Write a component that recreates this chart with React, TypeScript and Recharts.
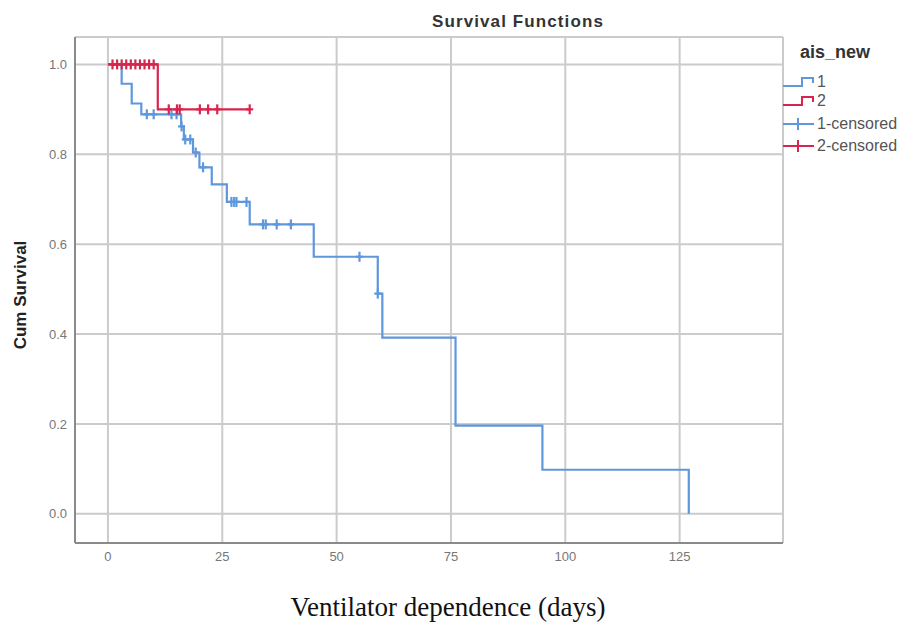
import React from 'react';
import { ComposedChart, Line, Scatter, XAxis, YAxis, CartesianGrid, Legend } from 'recharts';

// group 1 (ais_new = 1): step times and cumulative survival
const group1Times = [0, 3, 5.2, 7.3, 16, 16.6, 18.6, 20, 22.7, 26, 31, 45, 59, 60, 76, 95, 127];
const group1Surv = [1, 0.957, 0.913, 0.889, 0.862, 0.833, 0.804, 0.771, 0.733, 0.694, 0.644, 0.572, 0.49, 0.392, 0.196, 0.098, 0];
const group1CensorTimes = [8.5, 10, 13.9, 15, 16.1, 16.9, 18, 19.2, 20.8, 27, 27.6, 28.1, 30.3, 33.9, 34.5, 36.9, 40, 55, 59];
const group1CensorSurv = [0.889, 0.889, 0.889, 0.889, 0.862, 0.833, 0.833, 0.804, 0.771, 0.694, 0.694, 0.694, 0.694, 0.644, 0.644, 0.644, 0.644, 0.572, 0.49];

// group 2 (ais_new = 2)
const group2Times = [0, 10.9, 31];
const group2Surv = [1, 0.9, 0.9];
const group2CensorTimes = [1, 2, 3, 4, 5, 6, 7, 8, 9, 10, 13.3, 15.1, 15.7, 20.1, 21.9, 23.9, 31];
const group2CensorSurv = [1, 1, 1, 1, 1, 1, 1, 1, 1, 1, 0.9, 0.9, 0.9, 0.9, 0.9, 0.9, 0.9];

const xTicks = [0, 25, 50, 75, 100, 125];
const yTicks = [0, 0.2, 0.4, 0.6, 0.8, 1];
const legendLabels = ['1', '2', '1-censored', '2-censored'];

const BLUE = '#5f97dc';
const RED = '#d7264e';
const FONT = '"Liberation Sans", Arial, sans-serif';

const toPoints = (ts: number[], ss: number[]) => ts.map((t, i) => ({ t, s: ss[i] }));

const censorMark = (color: string) => (props: any) => {
  const { cx, cy } = props;
  return (
    <g stroke={color} strokeWidth={2.2}>
      <line x1={cx} x2={cx} y1={cy - 5} y2={cy + 5} />
      <line x1={cx - 3.5} x2={cx + 3.5} y1={cy} y2={cy} />
    </g>
  );
};

const LegendBox = () => {
  const rows = [48, 67, 90, 112];
  const colors = [BLUE, RED, BLUE, RED];
  return (
    <svg width={122} height={125} style={{ fontFamily: FONT }}>
      <text x={19} y={24} fontSize={18} fontWeight="bold" fill="#333">ais_new</text>
      {legendLabels.map((label, i) => {
        const y = rows[i];
        const c = colors[i];
        return (
          <g key={label}>
            {i < 2 ? (
              <path d={`M2,${y + 4} H21 V${y - 4} H32 V${y + 1}`} fill="none" stroke={c} strokeWidth={2} />
            ) : (
              <g stroke={c} strokeWidth={2}>
                <line x1={2} x2={33} y1={y} y2={y} />
                <line x1={17} x2={17} y1={y - 6} y2={y + 6} />
              </g>
            )}
            <text x={36} y={y + 5} fontSize={16} fill="#555">{label}</text>
          </g>
        );
      })}
    </svg>
  );
};

export default function App() {
  return (
    <div style={{ position: 'relative', width: 903, height: 628, background: '#fff', fontFamily: FONT }}>
      <style>{'body{margin:0}'}</style>
      <ComposedChart
        width={903}
        height={628}
        margin={{ top: 37, right: 120, bottom: 55, left: 35 }}
      >
        <CartesianGrid stroke="#cbcbcb" strokeWidth={2} />
        <XAxis
          dataKey="t"
          type="number"
          domain={[-7.2, 147.6]}
          allowDataOverflow
          ticks={xTicks}
          tickLine={false}
          tickSize={0}
          tickMargin={9}
          axisLine={{ stroke: '#8a8a8a', strokeWidth: 2 }}
          tick={{ fill: '#777', fontSize: 13 }}
        />
        <YAxis
          dataKey="s"
          type="number"
          width={40}
          domain={[-0.065, 1.061]}
          allowDataOverflow
          ticks={yTicks}
          tickFormatter={(v: number) => v.toFixed(1)}
          tickLine={false}
          tickSize={0}
          tickMargin={8}
          axisLine={{ stroke: '#8a8a8a', strokeWidth: 2 }}
          tick={{ fill: '#777', fontSize: 13 }}
        />
        <Legend
          layout="horizontal"
          verticalAlign="middle"
          content={() => <LegendBox />}
          wrapperStyle={{ left: 781, top: 34, width: 122, height: 125 }}
        />
        <Line
          data={toPoints(group1Times, group1Surv)}
          dataKey="s"
          type="stepAfter"
          stroke={BLUE}
          strokeWidth={2.2}
          dot={false}
          activeDot={false}
          isAnimationActive={false}
          legendType="none"
        />
        <Line
          data={toPoints(group2Times, group2Surv)}
          dataKey="s"
          type="stepAfter"
          stroke={RED}
          strokeWidth={2.2}
          dot={false}
          activeDot={false}
          isAnimationActive={false}
          legendType="none"
        />
        <Scatter
          data={toPoints(group1CensorTimes, group1CensorSurv)}
          dataKey="s"
          shape={censorMark(BLUE)}
          isAnimationActive={false}
          legendType="none"
        />
        <Scatter
          data={toPoints(group2CensorTimes, group2CensorSurv)}
          dataKey="s"
          shape={censorMark(RED)}
          isAnimationActive={false}
          legendType="none"
        />
      </ComposedChart>

      <div style={{ position: 'absolute', left: 418, top: 11, width: 200, lineHeight: '22px', textAlign: 'center', fontSize: 17, fontWeight: 'bold', color: '#333', letterSpacing: 1.1 }}>
        Survival Functions
      </div>
      <div style={{ position: 'absolute', left: 21 - 100, top: 295 - 11, width: 200, lineHeight: '22px', textAlign: 'center', fontSize: 17, fontWeight: 'bold', color: '#222', transform: 'rotate(-90deg)' }}>
        Cum Survival
      </div>
      <div style={{ position: 'absolute', left: 148, top: 591, width: 600, lineHeight: '32px', textAlign: 'center', fontSize: 27, fontFamily: '"Liberation Serif", "Times New Roman", serif', color: '#111' }}>
        Ventilator dependence (days)
      </div>
    </div>
  );
}
